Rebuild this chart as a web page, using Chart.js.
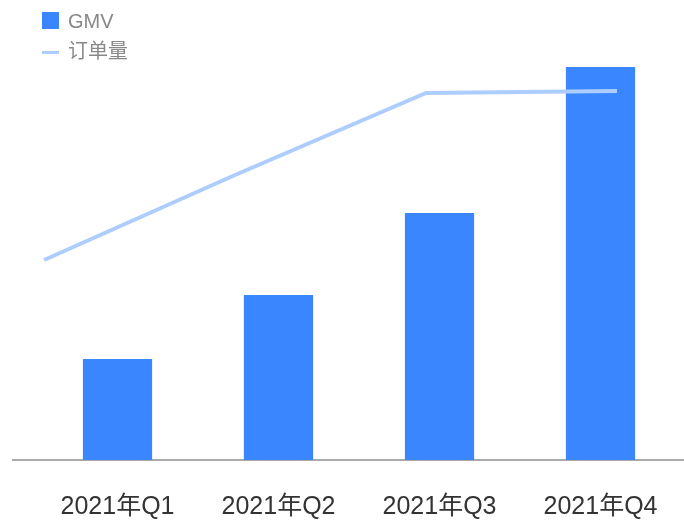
<!DOCTYPE html>
<html>
<head>
<meta charset="utf-8">
<script src="https://cdn.jsdelivr.net/npm/chart.js@4"></script>
<style>
  html, body { margin: 0; padding: 0; background: #fff; }
  #wrap { position: relative; width: 684px; height: 522px; }
  .legend { position: absolute; left: 42px; font-family: "Liberation Sans", "Noto Sans CJK SC", sans-serif; font-size: 20px; color: #888; }
  .legend div { position: relative; height: 30px; line-height: 30px; padding-left: 26px; }
  .legend .box { position: absolute; left: 0; top: 6px; width: 17px; height: 17px; background: #3a86ff; }
  .legend .ln { position: absolute; left: 0; top: 15px; width: 17px; height: 3px; background: #aecdff; }
</style>
</head>
<body>
<div id="wrap">
  <canvas id="c" width="684" height="522"></canvas>
  <div class="legend" style="top:6px">
    <div><span class="box"></span>GMV</div>
    <div><span class="ln"></span>订单量</div>
  </div>
</div>
<script>
const labels = ['2021年Q1', '2021年Q2', '2021年Q3', '2021年Q4'];
const gmv = [101, 165, 247, 393];
const orders = [200, 285, 367, 369];

// baseline drawn wider than the plot area
const baseline = {
  id: 'baseline',
  beforeDatasetsDraw(chart) {
    const ctx = chart.ctx;
    const y = chart.scales.y.getPixelForValue(0);
    ctx.save();
    ctx.strokeStyle = '#aaaaaa';
    ctx.lineWidth = 2;
    ctx.beginPath();
    ctx.moveTo(12, y);
    ctx.lineTo(chart.width, y);
    ctx.stroke();
    ctx.restore();
  }
};

new Chart(document.getElementById('c'), {
  type: 'bar',
  data: {
    labels: labels,
    datasets: [
      {
        type: 'line',
        label: '订单量',
        data: orders.map((v, i) => ({ x: i, y: v })),
        xAxisID: 'x2',
        yAxisID: 'y2',
        borderColor: '#aecdff',
        borderWidth: 4,
        pointRadius: 0,
        tension: 0,
        order: 0
      },
      {
        type: 'bar',
        label: 'GMV',
        data: gmv,
        xAxisID: 'x',
        yAxisID: 'y',
        backgroundColor: '#3a86ff',
        categoryPercentage: 1,
        barPercentage: 0.43,
        grouped: false,
        order: 1
      }
    ]
  },
  options: {
    responsive: false,
    animation: false,
    layout: { padding: { top: 60, left: 37, right: 3, bottom: 0 } },
    plugins: { legend: { display: false }, tooltip: { enabled: false } },
    scales: {
      x: {
        type: 'category',
        offset: true,
        grid: { display: false, drawTicks: false },
        border: { display: false },
        ticks: {
          color: '#333',
          padding: 32,
          maxRotation: 0,
          minRotation: 0,
          autoSkip: false,
          font: { family: '"Liberation Sans", "Noto Sans CJK SC", sans-serif', size: 25 }
        },
        afterFit: (scale) => {
          scale.height = 62;
          scale.paddingLeft = 0;
          scale.paddingRight = 0;
        }
      },
      x2: {
        type: 'linear',
        display: false,
        offset: false,
        min: -0.037,
        max: 3.335
      },
      y: { display: false, min: 0, max: 400 },
      y2: { display: false, min: 0, max: 400 }
    }
  },
  plugins: [baseline]
});
</script>
</body>
</html>
